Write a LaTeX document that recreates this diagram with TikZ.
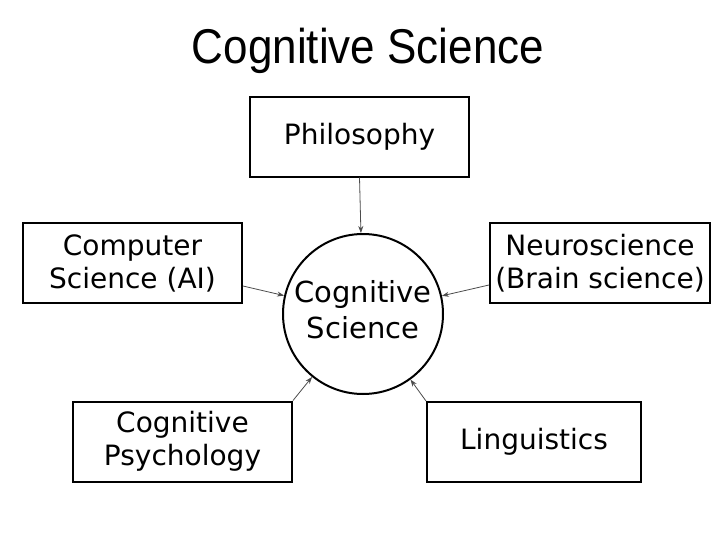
\documentclass[tikz,border=0pt]{standalone}
\usepackage{fontspec}
\setmainfont{DejaVu Sans}
\newfontfamily\titlefont{Liberation Sans}
\usetikzlibrary{arrows.meta}
\begin{document}
\begin{tikzpicture}[x=1pt,y=-1pt,
    field/.style={draw,line width=2pt,minimum height=80pt,align=center,
        font=\fontsize{28}{33}\selectfont,inner sep=0pt},
    core/.style={draw,circle,line width=2pt,minimum size=160pt,
        align=center,font=\fontsize{29}{36}\selectfont,inner sep=0pt,text depth=10pt},
    feed/.style={draw=black!70,line width=0.8pt,-{Stealth[length=7pt,width=5pt]}}]
    \useasboundingbox (0,0) rectangle (728,546);
    \node [anchor=base,font=\titlefont\fontsize{44}{50}\selectfont,yscale=1.11] (title) at (368,63) {Cognitive Science};
    \node [core] (cogsci) at (363,314) {Cognitive\\Science};
    \node [field,minimum width=219pt] (phil) at (359.5,136.5) {Philosophy};
    \node [field,minimum width=219pt] (comp) at (132.5,263) {Computer\\Science (AI)};
    \node [field,minimum width=220pt] (neuro) at (600,263) {Neuroscience\\(Brain science)};
    \node [field,minimum width=219pt] (psych) at (182.5,441.5) {Cognitive\\Psychology};
    \node [field,minimum width=214pt] (ling) at (534,442) {Linguistics};
    % arrows into the centre
    \draw [feed] (phil.south) -- (cogsci);
    \draw [feed] ([yshift=-23pt]comp.east) -- (cogsci);
    \draw [feed] ([yshift=-22pt]neuro.west) -- (cogsci);
    \draw [feed] (psych.north east) -- (cogsci);
    \draw [feed] (ling.north west) -- (cogsci);
\end{tikzpicture}
\end{document}
